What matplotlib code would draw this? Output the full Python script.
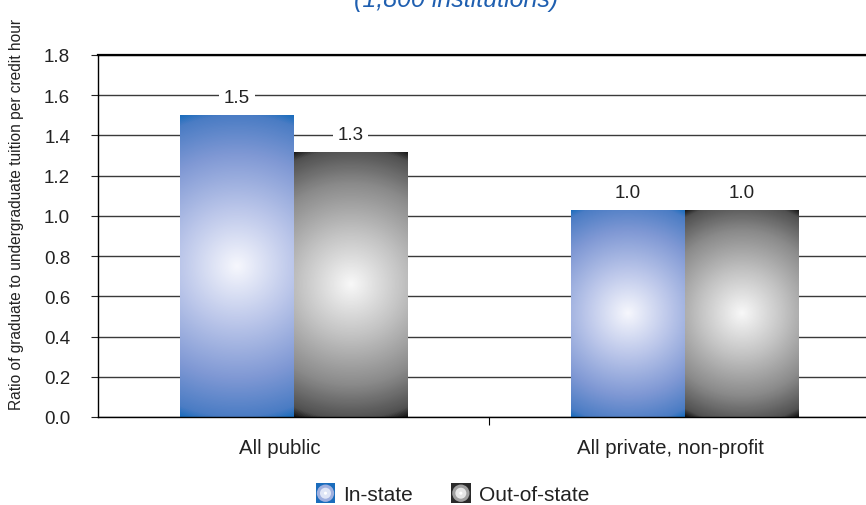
import numpy as np
import matplotlib
matplotlib.use("Agg")
import matplotlib.pyplot as plt
from matplotlib.colors import LinearSegmentedColormap
from matplotlib.patches import Rectangle, Circle
from matplotlib.legend_handler import HandlerBase
from matplotlib.transforms import ScaledTranslation

# data
categories = ["All public", "All private, non-profit"]
series_names = ["In-state", "Out-of-state"]
in_state = [1.50, 1.03]
out_of_state = [1.32, 1.03]
y_ticks = [0.0, 0.2, 0.4, 0.6, 0.8, 1.0, 1.2, 1.4, 1.6, 1.8]

plt.rcParams['font.family'] = ['Liberation Sans', 'DejaVu Sans']

blue_cmap = LinearSegmentedColormap.from_list(
    "blue_rad", [(0.0, "#f6f7fd"), (0.35, "#bcc7ea"), (0.7, "#7f98d4"),
                 (0.94, "#4a7cc4"), (1.0, "#1a6cbc")])
grey_cmap = LinearSegmentedColormap.from_list(
    "grey_rad", [(0.0, "#f8f8f8"), (0.35, "#c4c4c4"), (0.7, "#8a8a8a"),
                 (0.94, "#505050"), (1.0, "#151515")])
edge_colors = {"In-state": ("#1a6cbc", "#9fb0df", "#dfe5f6"),
               "Out-of-state": ("#2a2a2a", "#a0a0a0", "#e6e6e6")}

fig = plt.figure(figsize=(8.66, 5.06), dpi=100)
# axes runs a little past the right edge, as in the original
ax = fig.add_axes([98 / 866, 88 / 506, 782 / 866, 362 / 506])
ax.set_xlim(-0.5, 1.5)
ax.set_ylim(0, 1.8)

x = np.arange(len(categories))
width = 0.29
bars_in = ax.bar(x - width / 2, in_state, width, color="none", zorder=3)
bars_out = ax.bar(x + width / 2, out_of_state, width, color="none", zorder=3)


def fill_radial(rect, cmap):
    """paint a radial gradient inside a bar, circular in pixel space"""
    x0, y0 = rect.get_x(), rect.get_y()
    w, h = rect.get_width(), rect.get_height()
    p0 = ax.transData.transform((x0, y0))
    p1 = ax.transData.transform((x0 + w, y0 + h))
    wpx, hpx = abs(p1[0] - p0[0]), abs(p1[1] - p0[1])
    nx, ny = int(wpx) + 1, int(hpx) + 1
    gx, gy = np.meshgrid(np.linspace(-wpx / 2, wpx / 2, nx),
                         np.linspace(-hpx / 2, hpx / 2, ny))
    r = np.sqrt(gx ** 2 + gy ** 2) / np.hypot(wpx / 2, hpx / 2)
    im = ax.imshow(r, cmap=cmap, vmin=0, vmax=1, origin="lower",
                   extent=(x0, x0 + w, y0, y0 + h), aspect="auto",
                   interpolation="bilinear", zorder=2.5)
    im.set_clip_path(rect)


for b in bars_in:
    fill_radial(b, blue_cmap)
for b in bars_out:
    fill_radial(b, grey_cmap)
ax.set_xlim(-0.5, 1.5)
ax.set_ylim(0, 1.8)
ax.set_aspect("auto")

# value labels sitting on the gridlines with a white box
for rects in (bars_in, bars_out):
    for rect in rects:
        hgt = rect.get_height()
        ax.annotate(f"{hgt:.1f}", xy=(rect.get_x() + rect.get_width() / 2, hgt),
                    xytext=(0, 12.5), textcoords="offset points",
                    ha="center", va="center", fontsize=13.5, color="#222222",
                    bbox=dict(boxstyle="square,pad=0.25", fc="white", ec="none"),
                    zorder=4)

ax.set_yticks(y_ticks)
ax.set_yticklabels([f"{t:.1f}" for t in y_ticks])
ax.yaxis.grid(True, color="#3a3a3a", linewidth=1.0, zorder=1)
ax.set_axisbelow(True)
ax.tick_params(axis="y", direction="out", length=5, width=0.8, pad=15,
               labelsize=13.5, colors="#222222")

ax.set_xticks(x)
ax.set_xticklabels(categories)
ax.set_xticks([0.5], minor=True)
ax.tick_params(axis="x", which="major", length=0, pad=15, labelsize=14.7,
               colors="#222222")
ax.tick_params(axis="x", which="minor", direction="out", length=6, width=0.8)
for lbl in ax.get_xticklabels():
    lbl.set_transform(lbl.get_transform() + ScaledTranslation(-14 / 100, 0, fig.dpi_scale_trans))

for side in ("left", "bottom"):
    ax.spines[side].set_color("black")
    ax.spines[side].set_linewidth(1.0)
ax.spines["top"].set_linewidth(1.6)
ax.spines["right"].set_visible(False)

fig.text(17 / 866, 1 - 214 / 506,
         "Ratio of graduate to undergraduate tuition per credit hour",
         rotation=90, ha="center", va="center", fontsize=11.2, color="#222222")

fig.text(456 / 866, 1 - 7 / 506, "(1,800 institutions)", ha="center",
         va="baseline", fontsize=18, style="italic", color="#1f5fb0")


class RadialSquare(HandlerBase):
    def create_artists(self, legend, orig_handle, xdescent, ydescent,
                       width, height, fontsize, trans):
        dark, mid, light = edge_colors[orig_handle]
        s = height * 1.35
        x0 = -xdescent + (width - s) / 2
        y0 = -ydescent + (height - s) / 2
        cx, cy = x0 + s / 2, y0 + s / 2
        arts = [Rectangle((x0, y0), s, s, fc=dark, ec="none"),
                Circle((cx, cy), s * 0.44, fc=mid, ec="none"),
                Circle((cx, cy), s * 0.28, fc=light, ec="none"),
                Circle((cx, cy), s * 0.08, fc="white", ec="none")]
        for a in arts:
            a.set_transform(trans)
        return arts


fig.legend(series_names, series_names, loc="center", ncol=2,
           bbox_to_anchor=(452 / 866, 1 - 496 / 506), frameon=False,
           fontsize=15, handlelength=1.0, handletextpad=0.35,
           columnspacing=1.8, labelcolor="#222222",
           handler_map={n: RadialSquare() for n in series_names})

fig.savefig("out.png", dpi=100)
